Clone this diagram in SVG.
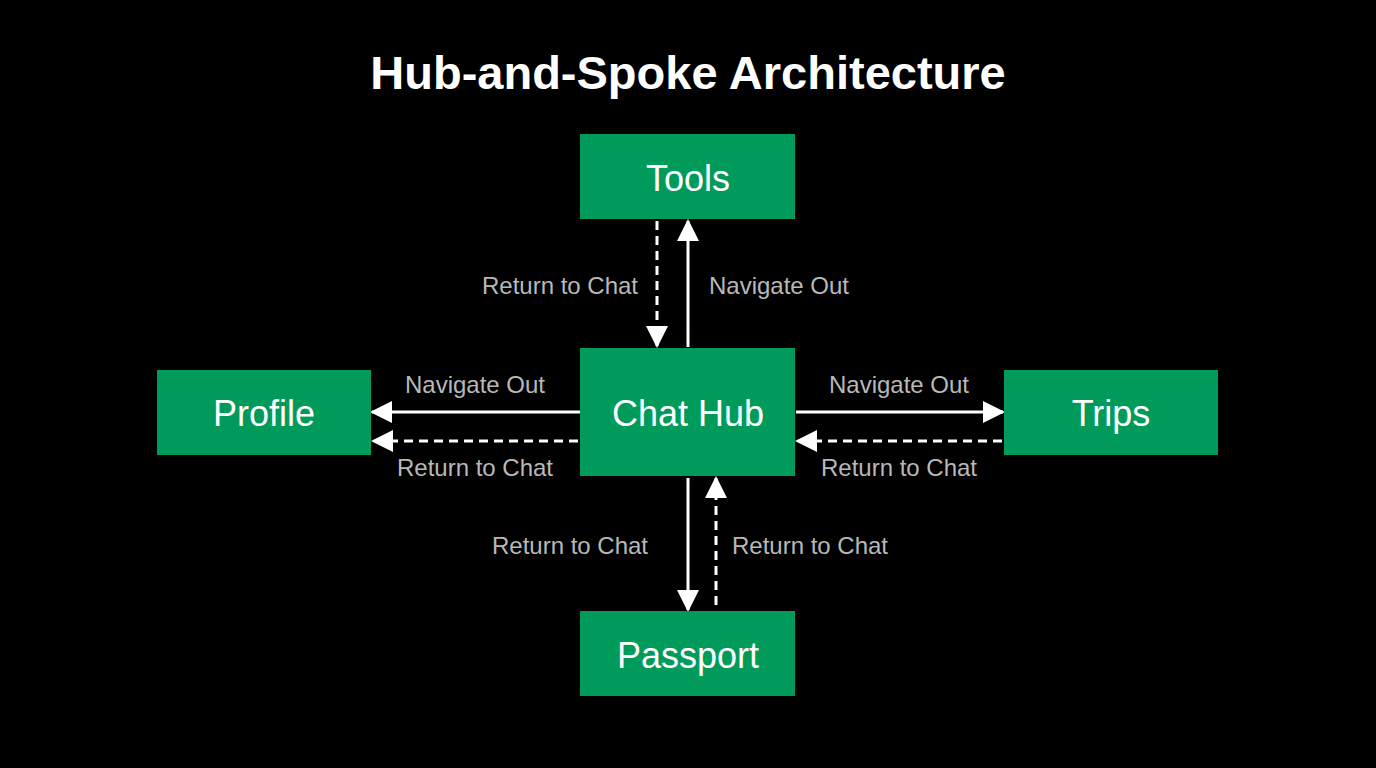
<svg xmlns="http://www.w3.org/2000/svg" width="1376" height="768" viewBox="0 0 1376 768">
<style>
.node{fill:#009b5b}
.nt{font-family:"Liberation Sans",Arial,sans-serif;font-size:36px;fill:#fff;text-anchor:middle;dominant-baseline:central}
.lb{font-family:"Liberation Sans",Arial,sans-serif;font-size:24px;fill:#b8b8b8;text-anchor:middle;dominant-baseline:central}
.s{stroke:#fff;stroke-width:3;fill:none}
.d{stroke:#fff;stroke-width:3;fill:none;stroke-dasharray:9 6}
</style>
<defs>
<marker id="m" viewBox="0 0 22 22" refX="20" refY="11" markerWidth="22" markerHeight="22" markerUnits="userSpaceOnUse" orient="auto">
<path d="M0,0 L22,11 L0,22 z" fill="#fff"/>
</marker>
</defs>
<rect width="1376" height="768" fill="#000"/>
<text x="688" y="72" font-family="Liberation Sans,Arial,sans-serif" font-size="47" font-weight="bold" fill="#fff" text-anchor="middle" dominant-baseline="central">Hub-and-Spoke Architecture</text>
<g id="connectors">
<line class="d" x1="657" y1="221" x2="657" y2="346" marker-end="url(#m)"/>
<line class="s" x1="688" y1="347" x2="688" y2="221" marker-end="url(#m)"/>
<line class="s" x1="580" y1="412" x2="372" y2="412" marker-end="url(#m)"/>
<line class="d" x1="578" y1="441" x2="373" y2="441" marker-end="url(#m)"/>
<line class="s" x1="796" y1="412" x2="1003" y2="412" marker-end="url(#m)"/>
<line class="d" x1="1002" y1="441" x2="797" y2="441" marker-end="url(#m)"/>
<line class="s" x1="688" y1="478" x2="688" y2="610" marker-end="url(#m)"/>
<line class="d" x1="716" y1="605" x2="716" y2="478" marker-end="url(#m)"/>
<text class="lb" x="560" y="285">Return to Chat</text>
<text class="lb" x="779" y="285">Navigate Out</text>
<text class="lb" x="475" y="384">Navigate Out</text>
<text class="lb" x="475" y="467">Return to Chat</text>
<text class="lb" x="899" y="384">Navigate Out</text>
<text class="lb" x="899" y="467">Return to Chat</text>
<text class="lb" x="570" y="545">Return to Chat</text>
<text class="lb" x="810" y="545">Return to Chat</text>
</g>
<g id="tools"><rect class="node" x="580" y="134" width="215" height="85"/><text class="nt" x="688" y="178">Tools</text></g>
<g id="hub"><rect class="node" x="580" y="348" width="215" height="128"/><text class="nt" x="688" y="413">Chat Hub</text></g>
<g id="profile"><rect class="node" x="157" y="370" width="214" height="85"/><text class="nt" x="264" y="413">Profile</text></g>
<g id="trips"><rect class="node" x="1004" y="370" width="214" height="85"/><text class="nt" x="1111" y="413">Trips</text></g>
<g id="passport"><rect class="node" x="580" y="611" width="215" height="85"/><text class="nt" x="688" y="655">Passport</text></g>
</svg>
